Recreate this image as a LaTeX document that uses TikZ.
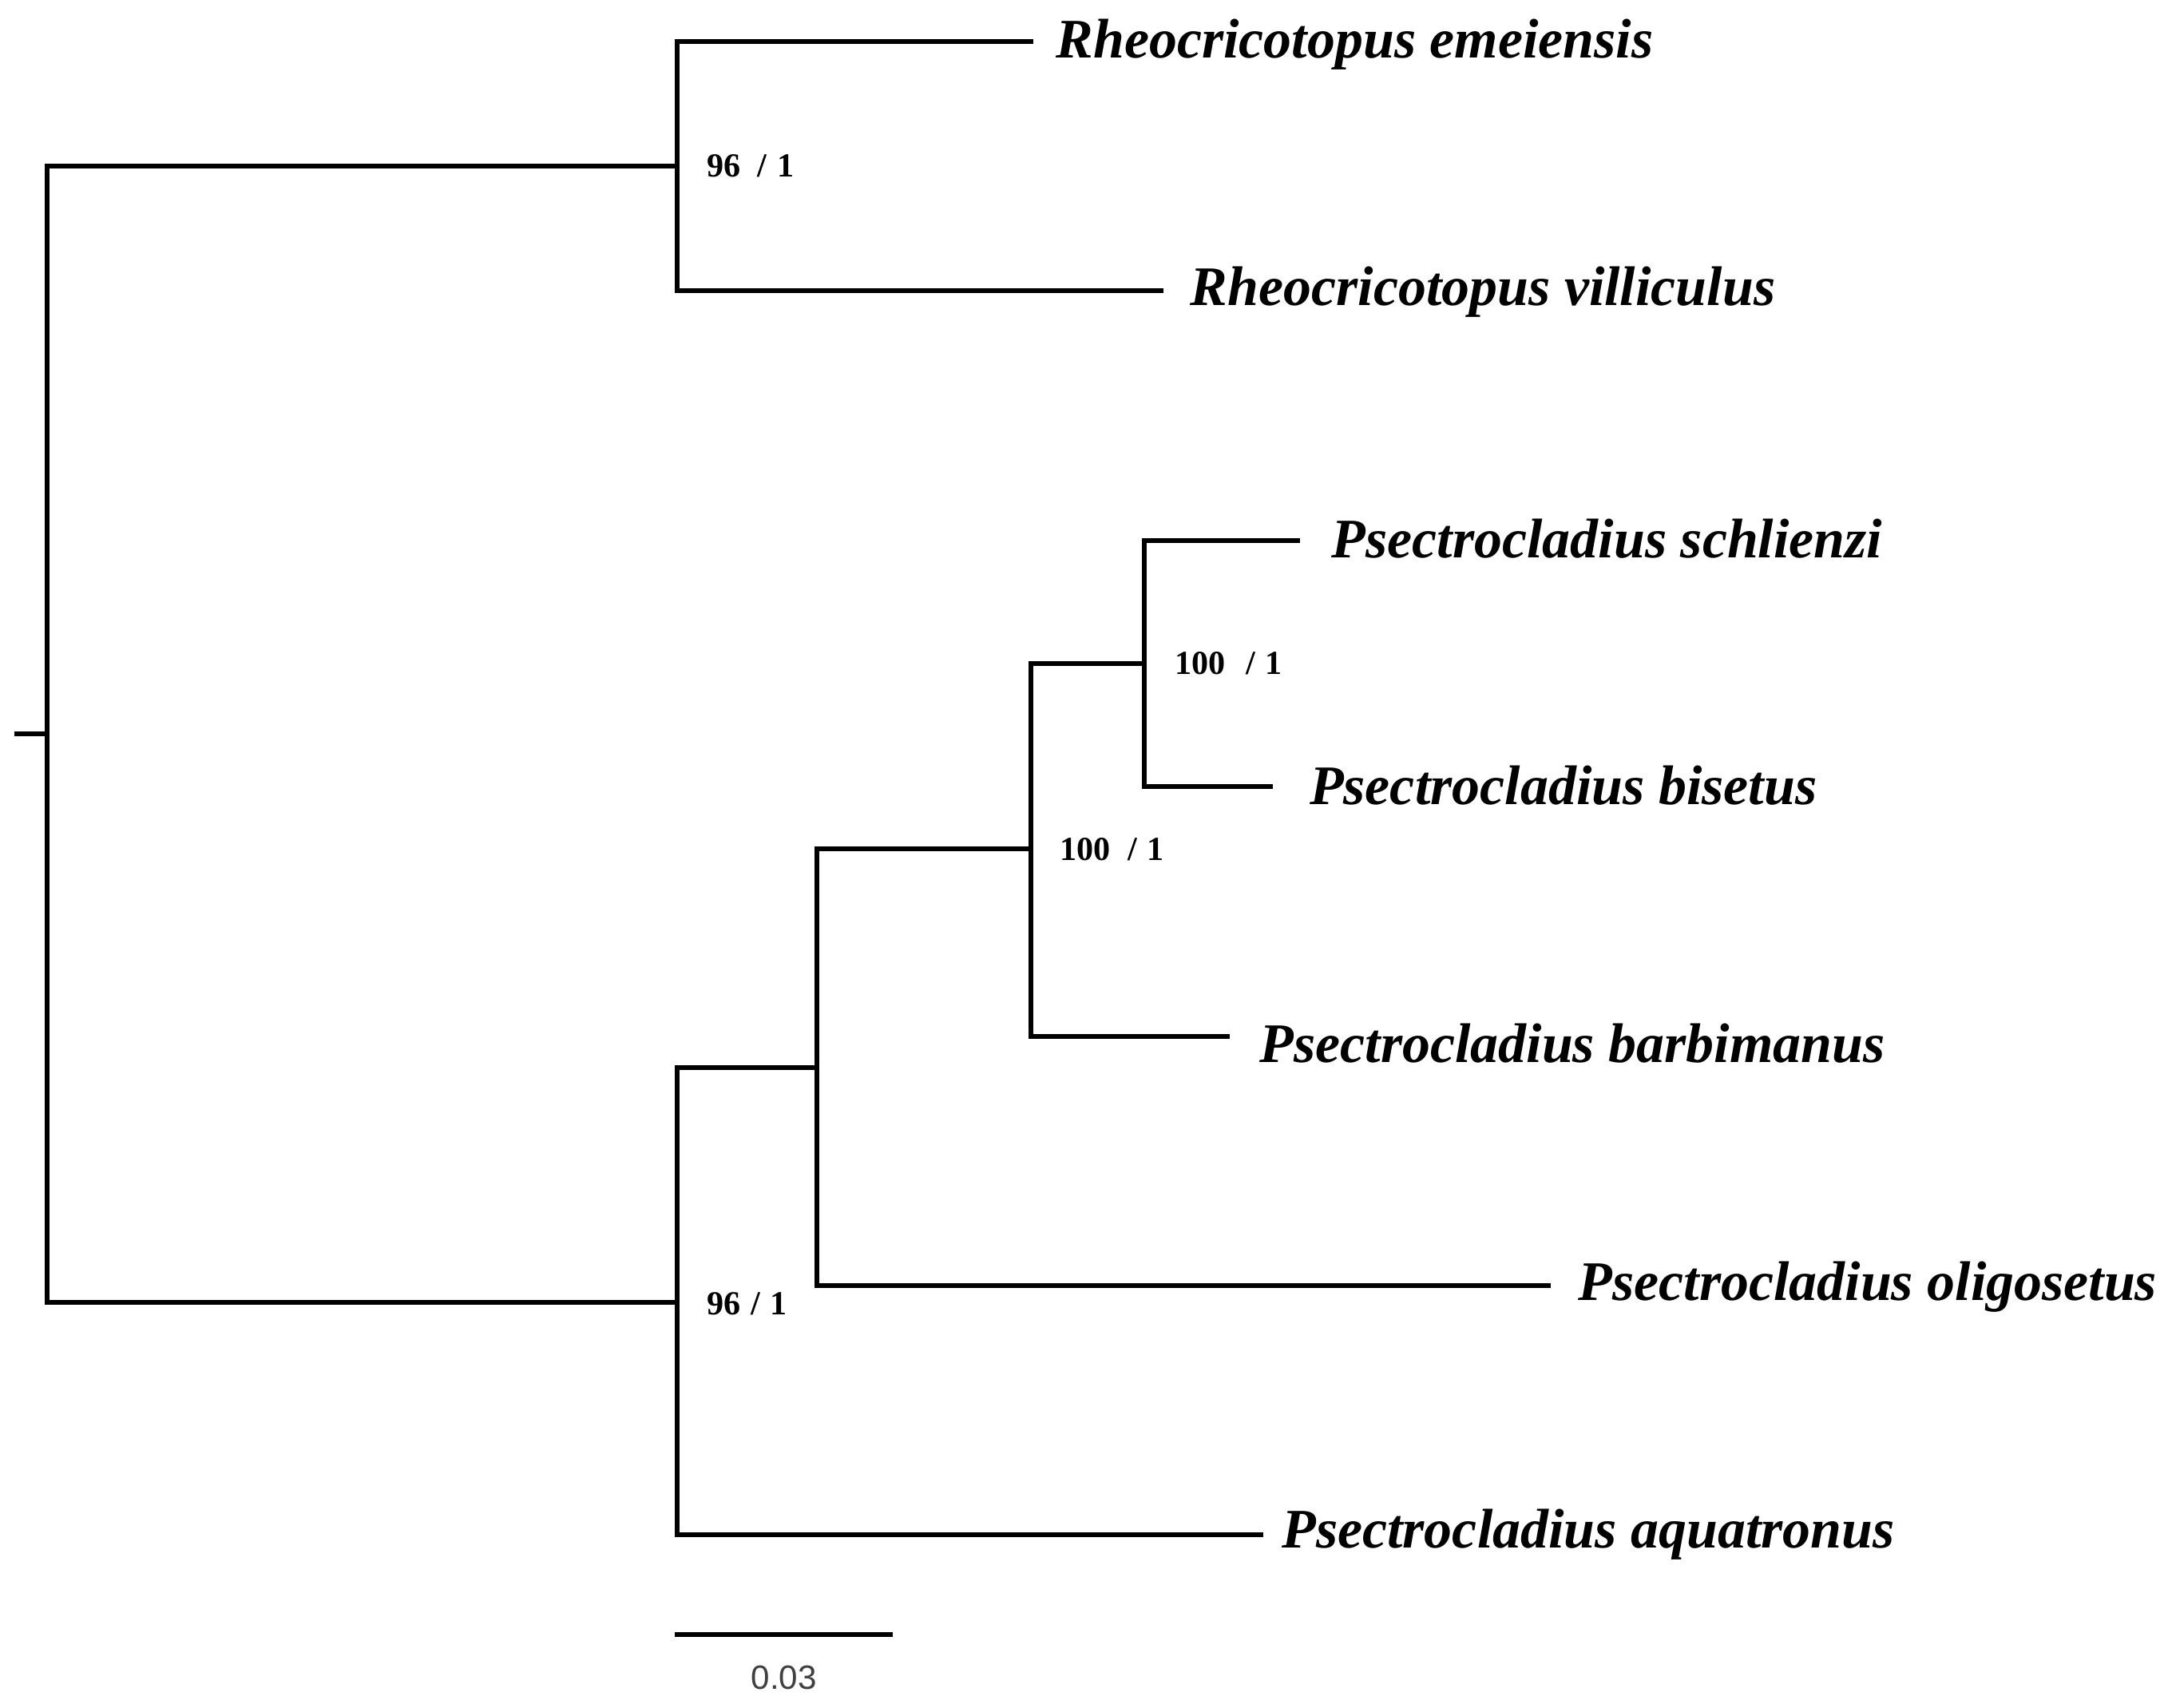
\documentclass[tikz,border=0pt]{standalone}
\usepackage{fontspec}
\setmainfont{Liberation Serif}
\newfontfamily\sbfont{Liberation Sans}
\begin{document}
\begin{tikzpicture}[x=0.017347cm,y=-0.017347cm,
  branch/.style={line width=1.7pt,black,line cap=rect},
  taxon/.style={anchor=west,inner sep=0pt,font=\fontsize{19.9}{23}\selectfont\bfseries\itshape},
  support/.style={anchor=west,inner sep=0pt,font=\fontsize{12}{14}\selectfont\bfseries},
  scalelab/.style={inner sep=0pt,text=black!75,font=\fontsize{12}{14}\selectfont\sbfont}]
\useasboundingbox (0,0) rectangle (1568,1233);
% internal nodes
\coordinate (stub) at (12,530);
\coordinate (r) at (34,530);
\coordinate (A) at (489,120);
\coordinate (B) at (489,940);
\coordinate (C) at (590,771);
\coordinate (D) at (744,613);
\coordinate (E) at (826,479);
% tips
\coordinate (t1) at (744,30);
\coordinate (t2) at (838,210);
\coordinate (t3) at (937,390);
\coordinate (t4) at (917,568);
\coordinate (t5) at (886,748);
\coordinate (t6) at (1118,928);
\coordinate (t7) at (910,1108);
% labels
\node[taxon] (n1) at (762,32) {Rheocricotopus emeiensis};
\node[taxon] (n2) at (859,211) {Rheocricotopus villiculus};
\node[taxon] (n3) at (961,389) {Psectrocladius schlienzi};
\node[taxon] (n4) at (945,567) {Psectrocladius bisetus};
\node[taxon] (n5) at (909,753) {Psectrocladius barbimanus};
\node[taxon] (n6) at (1139,929) {Psectrocladius oligosetus};
\node[taxon] (n7) at (925,1108) {Psectrocladius aquatronus};
% branches
\draw[branch] (stub) -- (r);
\draw[branch] (r) |- (A);
\draw[branch] (r) |- (B);
\draw[branch] (A) |- (t1);
\draw[branch] (A) |- (t2);
\draw[branch] (B) |- (C);
\draw[branch] (B) |- (t7);
\draw[branch] (C) |- (D);
\draw[branch] (C) |- (t6);
\draw[branch] (D) |- (E);
\draw[branch] (D) |- (t5);
\draw[branch] (E) |- (t3);
\draw[branch] (E) |- (t4);
% support values
\node[support] (s1) at (510,120) {96\hspace{0.5em}/\hspace{0.3em}1};
\node[support] (s2) at (848,479) {100\hspace{0.6em}/\hspace{0.3em}1};
\node[support] (s3) at (765,613) {100\hspace{0.5em}/\hspace{0.3em}1};
\node[support] (s4) at (510,941) {96\hspace{0.3em}/\hspace{0.3em}1};
% scale bar
\coordinate (sb1) at (489,1180);
\coordinate (sb2) at (643,1180);
\draw[branch] (sb1) -- (sb2);
\node[scalelab] (sbl) at (566,1211) {0.03};
\end{tikzpicture}
\end{document}
